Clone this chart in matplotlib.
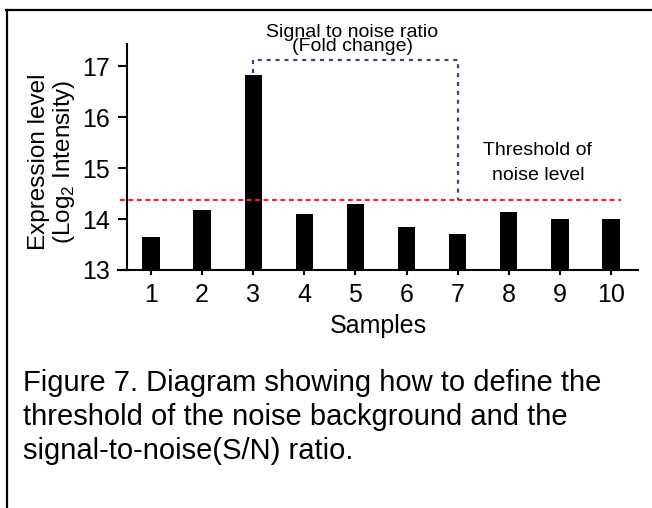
import numpy as np
import matplotlib
matplotlib.use('Agg')
import matplotlib.pyplot as plt
from matplotlib.lines import Line2D

plt.rcParams['font.family'] = ['Liberation Sans', 'DejaVu Sans']
plt.rcParams['mathtext.fontset'] = 'custom'
plt.rcParams['mathtext.rm'] = 'Liberation Sans'

# data
samples = [1, 2, 3, 4, 5, 6, 7, 8, 9, 10]
levels = [13.65, 14.18, 16.84, 14.11, 14.29, 13.85, 13.71, 14.13, 14.00, 14.01]
noise_threshold = 14.37
fold_top = 17.13
signal_sample = 3
ref_sample = 7

W, H = 652, 508
fig = plt.figure(figsize=(W / 100, H / 100), dpi=100)
ax = fig.add_axes([118 / W, (H - 270) / H, (638 - 118) / W, (270 - 44) / H])

ax.bar(samples, levels, width=0.34, color='black')
ax.set_xlim(0.354, 10.53)
ax.set_ylim(13, 17.44)
ax.set_xticks(samples)
ax.set_yticks([13, 14, 15, 16, 17])

for s in ['top', 'right']:
    ax.spines[s].set_visible(False)
for s in ['left', 'bottom']:
    ax.spines[s].set_linewidth(1.5)
ax.spines['left'].set_position(('data', 0.53))
ax.tick_params(axis='y', length=6.5, width=1.5, pad=6, labelsize=18)
ax.tick_params(axis='x', length=3.6, width=1.5, pad=6, labelsize=18)

# noise threshold
ax.hlines(noise_threshold, 0.39, 10.2, colors='#ee2a2a',
          linestyles=(0, (2.2, 1.6)), lw=1.6, zorder=3)

# fold-change bracket
ax.plot([signal_sample, signal_sample, ref_sample, ref_sample],
        [levels[signal_sample - 1] + 0.03, fold_top, fold_top, noise_threshold],
        color='#3b3b8f', ls=(0, (1.8, 2.2)), lw=1.6, clip_on=False, zorder=3)

ax.text(4.94, 17.52, 'Signal to noise ratio\n(Fold change)', ha='center',
        va='center', ma='center', fontsize=14, linespacing=0.78, clip_on=False)
ax.text(8.57, 15.1, 'Threshold of\nnoise level', ha='center', va='center',
        ma='center', fontsize=14, linespacing=1.6)

ax.set_xlabel('Samples', fontsize=18, labelpad=5)

fig.text(39 / W, 1 - 162 / H, 'Expression level', rotation=90,
         ha='center', va='center', fontsize=17.5)
fig.text(64 / W, 1 - 162 / H, '(Log$_2$ Intensity)', rotation=90,
         ha='center', va='center', fontsize=17.5)

# frame lines of the figure panel
fig.add_artist(Line2D([6 / W, 1], [1 - 10 / H, 1 - 10 / H],
                      transform=fig.transFigure, color='black', lw=1.6))
fig.add_artist(Line2D([7 / W, 7 / W], [0, 1 - 10 / H],
                      transform=fig.transFigure, color='black', lw=1.6))

caption = ('Figure 7. Diagram showing how to define the\n'
           'threshold of the noise background and the\n'
           'signal-to-noise(S/N) ratio.')
fig.text(23 / W, 1 - 369 / H, caption, ha='left', va='top',
         fontsize=21, linespacing=1.28)

fig.savefig('out.png', dpi=100)
